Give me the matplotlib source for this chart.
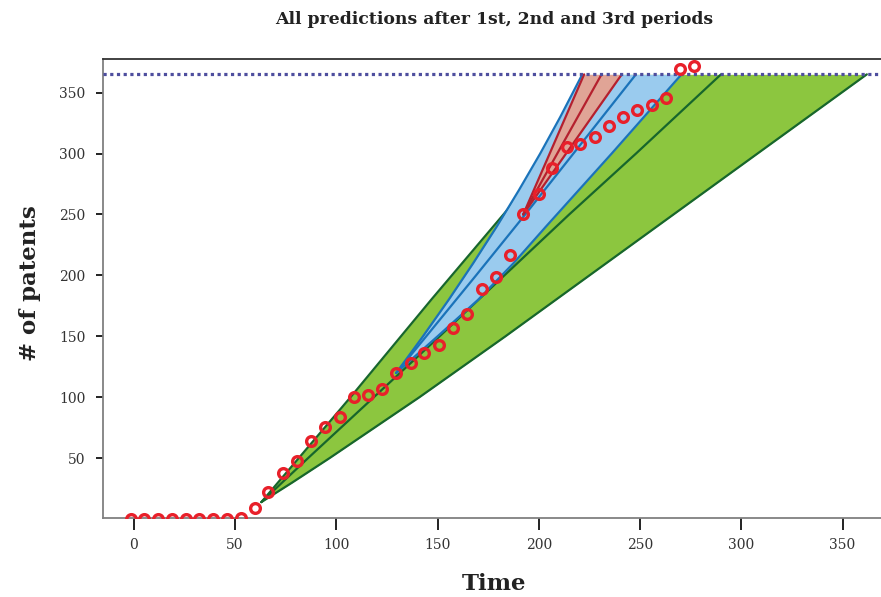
import matplotlib
matplotlib.use("Agg")
import matplotlib.pyplot as plt
import numpy as np

# ---------------- data ----------------
time_obs = [-1.5, 5.2, 12.1, 18.9, 25.7, 32.2, 39.0, 45.9, 52.8, 59.9, 66.5,
            73.6, 80.7, 87.7, 94.6, 101.7, 108.6, 115.8, 122.7, 129.6, 136.7,
            143.3, 150.7, 157.8, 164.7, 171.8, 178.9, 185.8, 192.3, 200.1,
            206.3, 213.8, 220.3, 227.7, 234.8, 241.7, 248.6, 255.7, 262.8,
            269.7, 276.7]
patents_obs = [0, 0, 0, 0, 0, 0, 0, 0, 1, 9, 22, 38, 48, 64, 76, 84, 100, 102,
               107, 120, 128, 136, 143, 157, 168, 189, 199, 217, 250, 267, 288,
               305, 308, 314, 323, 330, 336, 340, 346, 369, 372]

cap_value = 365

# 1st period prediction (green): time as a function of # of patents
green_upper_y = [14, 100, 180.5, 256.4, 300, 365]
green_upper_x = [63, 107, 147.1, 185.8, 208, 241]
green_mid_y = [14, 50, 100, 150, 200, 250, 300, 365]
green_mid_x = [63, 86, 118.5, 151, 183, 215, 248, 290]
green_lower_y = [14, 30, 50, 100, 150, 200, 250, 300, 365]
green_lower_x = [63, 78.2, 96.6, 141, 183.5, 225, 266.5, 308, 362]

# 2nd period prediction (blue)
blue_upper_y = [120, 150, 180, 210, 240, 270, 300, 330, 365]
blue_upper_x = [129.6, 142.8, 155.5, 167.6, 179.2, 190.2, 200.7, 210.6, 221.5]
blue_mid_y = [120, 150, 200, 250, 300, 365]
blue_mid_x = [129.6, 144.4, 169, 193.3, 217.1, 248]
blue_lower_y = [120, 150, 180, 210, 240, 300, 365]
blue_lower_x = [129.6, 150, 170, 187.5, 203.5, 236, 270.5]

# 3rd period prediction (red)
red_y = [250, 365]
red_upper_x = [192.3, 222.4]
red_mid_x = [192.3, 231]
red_lower_x = [192.3, 241]

x_ticks = [0, 50, 100, 150, 200, 250, 300, 350]
y_ticks = [50, 100, 150, 200, 250, 300, 350]


def band_fill(ax, y_left, x_left, y_right, x_right, **kw):
    """Fill between two x(y) boundaries on a common y grid."""
    ys = np.union1d(y_left, y_right)
    lo = max(min(y_left), min(y_right))
    hi = min(max(y_left), max(y_right))
    ys = ys[(ys >= lo) & (ys <= hi)]
    xl = np.interp(ys, y_left, x_left)
    xr = np.interp(ys, y_right, x_right)
    ax.fill_betweenx(ys, xl, xr, **kw)


# ---------------- styling ----------------
SERIF = ["DejaVu Serif"]
W, H = 881, 597
fig = plt.figure(figsize=(W / 100, H / 100), dpi=100)
ax = fig.add_axes([103.4 / W, 1 - 517.7 / H, 1 - 103.4 / W, (517.7 - 59) / H])

g_fill, g_line = "#8CC63F", "#17662C"
b_fill, b_line = "#9ACBEE", "#1A73BA"
r_fill, r_line = "#E0A496", "#B5202E"

# green band
band_fill(ax, green_upper_y, green_upper_x, green_lower_y, green_lower_x,
          color=g_fill, lw=0, zorder=1)
for xs, ys in ((green_upper_x, green_upper_y), (green_mid_x, green_mid_y),
               (green_lower_x, green_lower_y)):
    ax.plot(xs, ys, color=g_line, lw=1.6, zorder=2, solid_capstyle="round",
            solid_joinstyle="round")

# blue band
band_fill(ax, blue_upper_y, blue_upper_x, blue_lower_y, blue_lower_x,
          color=b_fill, lw=0, zorder=3)
for xs, ys in ((blue_upper_x, blue_upper_y), (blue_mid_x, blue_mid_y),
               (blue_lower_x, blue_lower_y)):
    ax.plot(xs, ys, color=b_line, lw=1.6, zorder=4, solid_capstyle="round",
            solid_joinstyle="round")

# red band
ax.fill_betweenx(red_y, red_upper_x, red_lower_x, color=r_fill, lw=0, zorder=5)
for xs in (red_upper_x, red_mid_x, red_lower_x):
    ax.plot(xs, red_y, color=r_line, lw=1.6, zorder=6, solid_capstyle="round")

# cap line
ax.axhline(cap_value, color="#4E4E9E", lw=2.3, linestyle=(0, (1, 1.1)), zorder=7)

# observations
ax.plot(time_obs, patents_obs, linestyle="none", marker="o", ms=7,
        mfc="none", mec="#E8202A", mew=2.4, zorder=8)

ax.set_xlim(-15, 369)
ax.set_ylim(1.2, 377.6)
ax.set_xticks(x_ticks)
ax.set_yticks(y_ticks)
ax.tick_params(axis="x", length=8.5, width=1.4, color="#222222", pad=6,
               labelsize=10, labelcolor="#333333")
ax.tick_params(axis="y", length=5, width=1.4, color="#222222", pad=8,
               labelsize=10, labelcolor="#333333")
for lab in ax.get_xticklabels() + ax.get_yticklabels():
    lab.set_family(SERIF)

ax.spines["right"].set_visible(False)
ax.spines["left"].set_color("#808080")
ax.spines["bottom"].set_color("#808080")
ax.spines["top"].set_color("#333333")
for s in ("left", "bottom", "top"):
    ax.spines[s].set_linewidth(1.3)

fig.text(494 / W, 1 - 20 / H, "All predictions after 1st, 2nd and 3rd periods",
         ha="center", va="center", fontsize=12.4, fontweight="bold",
         family=SERIF, color="#222222")
fig.text(494 / W, 1 - 584 / H, "Time", ha="center", va="center",
         fontsize=16.5, fontweight="bold", family=SERIF, color="#222222")
fig.text(30 / W, 1 - 283 / H, "# of patents", ha="center", va="center",
         rotation=90, fontsize=16.5, fontweight="bold", family=SERIF,
         color="#222222")

fig.savefig("out.png", dpi=100)
